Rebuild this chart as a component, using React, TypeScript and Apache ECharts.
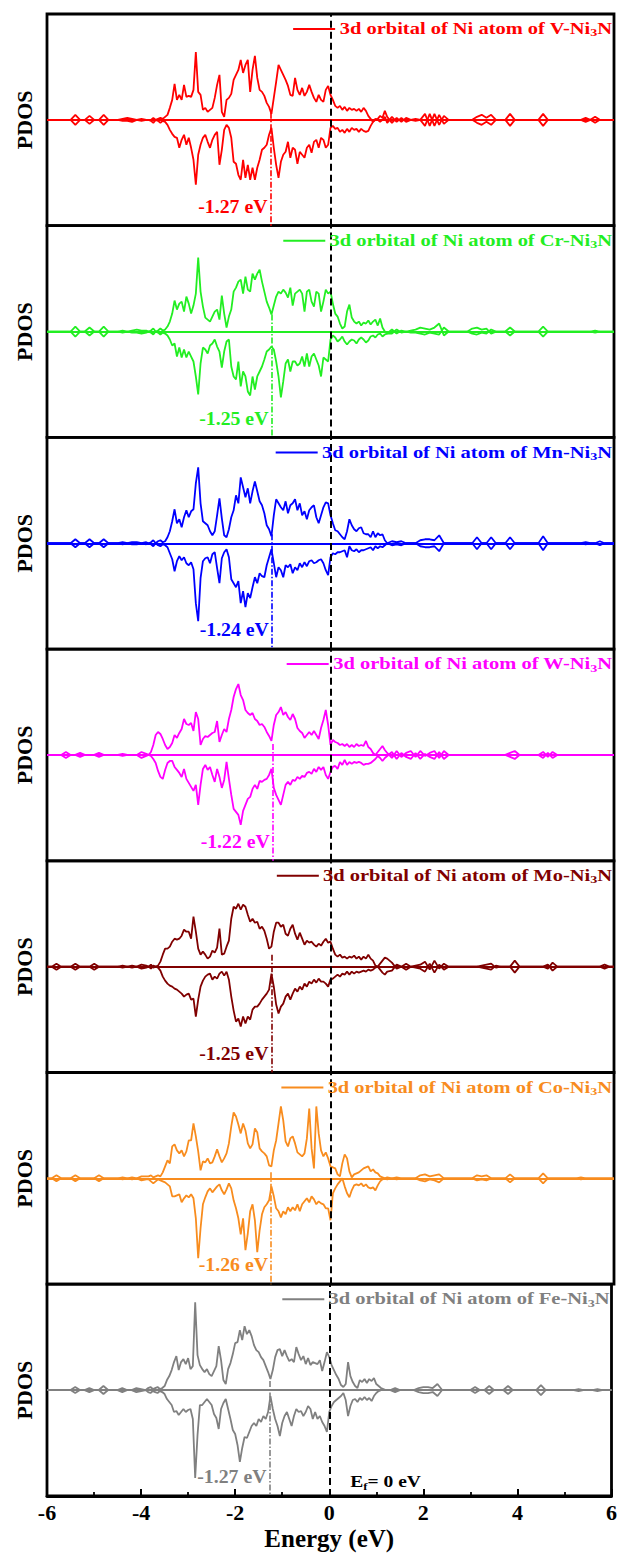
import React, { useEffect, useRef } from "react";
import * as echarts from "echarts";

// ---------------- data ----------------
const energyLeft = [-6, -5.9, -5.8, -5.7, -5.6, -5.5, -5.4, -5.3, -5.2, -5.1, -5, -4.9, -4.8, -4.7, -4.6, -4.5, -4.4, -4.3, -4.2, -4.1, -4, -3.9];
const energyCore = [
  -3.85, -3.8, -3.75, -3.7, -3.65, -3.6, -3.55, -3.5, -3.45, -3.4,
  -3.35, -3.3, -3.25, -3.2, -3.15, -3.1, -3.05, -3, -2.95, -2.9,
  -2.85, -2.8, -2.75, -2.7, -2.65, -2.6, -2.55, -2.5, -2.45, -2.4,
  -2.35, -2.3, -2.25, -2.2, -2.15, -2.1, -2.05, -2, -1.95, -1.9,
  -1.85, -1.8, -1.75, -1.7, -1.65, -1.6, -1.55, -1.5, -1.45, -1.4,
  -1.35, -1.3, -1.25, -1.2, -1.15, -1.1, -1.05, -1, -0.95, -0.9,
  -0.85, -0.8, -0.75, -0.7, -0.65, -0.6, -0.55, -0.5, -0.45, -0.4,
  -0.35, -0.3, -0.25, -0.2, -0.15, -0.1, -0.05, 0, 0.05, 0.1,
  0.15, 0.2, 0.25, 0.3, 0.35, 0.4, 0.45, 0.5, 0.55, 0.6,
  0.65, 0.7, 0.75, 0.8, 0.85, 0.9, 0.95, 1, 1.05, 1.1,
  1.15, 1.2,
];
const energyRight = [
  1.3, 1.4, 1.5, 1.6, 1.7, 1.8, 1.9, 2, 2.1, 2.2,
  2.3, 2.4, 2.5, 2.6, 2.7, 2.8, 2.9, 3, 3.1, 3.2,
  3.3, 3.4, 3.5, 3.6, 3.7, 3.8, 3.9, 4, 4.1, 4.2,
  4.3, 4.4, 4.5, 4.6, 4.7, 4.8, 4.9, 5, 5.1, 5.2,
  5.3, 5.4, 5.5, 5.6, 5.7, 5.8, 5.9, 6,
];
const energy = [...energyLeft, ...energyCore, ...energyRight];

// V-Ni3N
const vUp = [
  0, 0, 0, 0, 0, 0, 5, 0, 0, 4, 0, 0, 5, 0, 0, 0, 1, 2, 1, 0, 1, 0,
  0, 0, 2, 0, 1, 2, 1, 3, 5, 12,
  20, 36, 20, 25, 20, 35, 23, 24, 23, 30,
  68, 28, 25, 10, 12, 8, 10, 12, 22, 35,
  45, 8, 3, 20, 22, 26, 40, 45, 50, 60,
  47, 55, 60, 28, 50, 64, 42, 30, 28, 24,
  17, 13, 6, 22, 38, 55, 50, 45, 40, 34,
  25, 24, 42, 30, 25, 32, 24, 28, 35, 28,
  22, 18, 25, 20, 18, 30, 34, 25, 20, 14,
  12, 14, 10, 13, 9, 12, 10, 11, 9, 11,
  8, 12, 9, 4, 1, -2, 0, 1, 4, 2,
  9, 3,
  -3, 2, -2, 2, 0, 1, 0, 6, -6, 6,
  -5, 4, 0, 0, 0, 0, 0, 0, 3, 5,
  2, 5, 0, 0, 0, 6, 0, 0, 0, 0,
  0, 0, 6, 0, 0, 0, 0, 0, 0, 0,
  0, 2, 0, 3, 0, 0, 0, 0,
];
const vDn = [
  0, 0, 0, 0, 0, 0, -5, 0, 0, -4, 0, 0, -5, 0, 0, 0, -1, -1, -2, 0, -1, 0,
  0, -1, -3, 0, -1, -3, -1, -2, -5, -10,
  -14, -17, -18, -28, -20, -15, -25, -18, -28, -40,
  -65, -35, -25, -18, -15, -22, -28, -20, -15, -12,
  -45, -30, -10, -5, -8, -18, -42, -44, -55, -60,
  -40, -58, -45, -60, -48, -60, -48, -40, -30, -28,
  -25, -15, -8, -28, -45, -58, -42, -35, -32, -22,
  -38, -28, -30, -44, -32, -35, -38, -28, -25, -33,
  -22, -20, -28, -18, -20, -28, -25, -8, -6, -9,
  -8, -12, -10, -13, -9, -12, -8, -10, -9, -12,
  -9, -11, -12, -11, -6, -2, 1, 0, -2, 0,
  3, -3,
  3, -2, 2, -2, 0, -1, 0, -6, 6, -6,
  5, -4, 0, 0, 0, 0, 0, 0, -3, -5,
  -2, -5, 0, 0, 0, -6, 0, 0, 0, 0,
  0, 0, -6, 0, 0, 0, 0, 0, 0, 0,
  0, -2, 0, -3, 0, 0, 0, 0,
];

// Cr-Ni3N
const crUp = [
  0, 0, 0, 0, 0, 0, 5, 0, 0, 4, 0, 0, 5, 0, 0, 0, 1, 0, 1, 2, 1, 1,
  0, 1, 3, 0, 1, 3, 1, 2, 5, 10,
  18, 31, 22, 28, 30, 20, 35, 28, 18, 26,
  38, 74, 40, 25, 14, 12, 10, 15, 20, 22,
  12, 36, 18, 4, 15, 22, 40, 44, 50, 52,
  38, 55, 42, 40, 58, 52, 58, 62, 50, 40,
  30, 24, 17, 26, 35, 40, 38, 42, 39, 34,
  44, 26, 38, 40, 42, 38, 20, 40, 42, 30,
  25, 40, 38, 20, 30, 42, 38, 40, 28, 18,
  15, 8, 3, 5, 20, 27, 14, 10, 8, 10,
  6, 9, 8, 11, 7, 10, 12, 6, 13, 4,
  0, -2,
  2, -2, 1, 0, 1, 2, 4, 3, 2, 4,
  8, -4, 0, 0, 0, 0, 0, 3, 4, 2,
  3, -2, 0, 0, 0, 4, 0, 0, 0, 0,
  0, 0, 5, 0, 0, 0, 0, 0, 0, 0,
  0, 0, 0, 1, 0, 0, 0, 0,
];
const crDn = [
  0, 0, 0, 0, 0, 0, -5, 0, 0, -4, 0, 0, -5, 0, 0, 0, -1, 0, -1, -1, -2, -1,
  0, -1, -3, 0, -1, -3, -1, -2, -4, -8,
  -14, -12, -25, -16, -26, -18, -26, -20, -25, -30,
  -45, -63, -32, -16, -18, -22, -14, -12, -8, -15,
  -20, -36, -20, -10, -8, -35, -45, -48, -30, -55,
  -40, -45, -60, -64, -45, -58, -45, -40, -35, -28,
  -20, -18, -15, -18, -30, -45, -66, -50, -32, -28,
  -40, -30, -30, -34, -32, -25, -35, -22, -35, -25,
  -22, -28, -34, -45, -26, -28, -30, -8, -4, -6,
  -10, -8, -5, -10, -13, -10, -8, -9, -12, -8,
  -6, -8, -11, -9, -5, -4, -6, -3, -2, -5,
  -3, -2,
  -2, 2, -1, 0, -1, -1, -2, -3, -1, -2,
  -3, 4, 0, 0, 0, 0, 0, -2, -3, -1,
  -2, 2, 0, 0, 0, -4, 0, 0, 0, 0,
  0, 0, -5, 0, 0, 0, 0, 0, 0, 0,
  0, 0, 0, -1, 0, 0, 0, 0,
];

// Mn-Ni3N
const mnUp = [
  0, 0, 0, 0, 0, 0, 4, 0, 0, 4, 0, 0, 4, 0, 0, 0, 1, 0, 1, 1, 0, 1,
  0, 1, 3, 0, 2, 3, 1, 2, 6, 12,
  22, 34, 20, 24, 16, 26, 33, 26, 32, 34,
  60, 76, 40, 22, 20, 18, 12, 8, 12, 28,
  45, 25, 8, 6, 14, 26, 33, 48, 40, 66,
  56, 46, 55, 40, 52, 62, 52, 42, 38, 30,
  18, 14, 7, 28, 44, 40, 36, 33, 42, 30,
  38, 40, 44, 33, 40, 28, 32, 24, 33, 36,
  38, 26, 20, 28, 36, 41, 40, 28, 20, 13,
  12, 9, 6, 4, 12, 24, 18, 14, 12, 15,
  16, 10, 9, 9, 6, 12, 6, 10, 8, 9,
  3, 0,
  2, 1, 2, 0, 0, 0, 3, 4, 4, 3,
  8, 0, 0, 0, 0, 0, 0, 0, 6, 0,
  0, 6, 0, 0, 0, 6, 0, 0, 0, 0,
  0, 0, 7, 0, 0, 0, 0, 0, 0, 0,
  0, 1, 0, 0, 2, 0, 0, 0,
];
const mnDn = [
  0, 0, 0, 0, 0, 0, -4, 0, 0, -4, 0, 0, -4, 0, 0, 0, -1, 0, -1, -1, 0, -1,
  0, -1, -3, 0, -2, -3, -1, -2, -4, -10,
  -16, -28, -18, -13, -17, -14, -20, -22, -19, -26,
  -60, -78, -35, -18, -15, -14, -20, -11, -9, -25,
  -40, -15, -9, -6, -14, -36, -40, -44, -38, -60,
  -48, -64, -50, -55, -44, -34, -40, -30, -33, -34,
  -22, -14, -6, -20, -34, -24, -27, -34, -22, -24,
  -21, -30, -24, -27, -20, -24, -19, -23, -18, -17,
  -20, -19, -17, -16, -20, -27, -32, -14, -10, -11,
  -9, -9, -8, -7, -14, -3, -7, -8, -6, -9,
  -7, -7, -6, -5, -4, -7, -3, -5, -3, -4,
  -2, 0,
  -2, -1, -2, 0, 0, 0, -3, -4, -4, -3,
  -8, 0, 0, 0, 0, 0, 0, 0, -6, 0,
  0, -6, 0, 0, 0, -6, 0, 0, 0, 0,
  0, 0, -7, 0, 0, 0, 0, 0, 0, 0,
  0, -1, 0, 0, -2, 0, 0, 0,
];

// W-Ni3N
const wUp = [
  0, 0, 0, 0, 3, 0, 0, 2, 0, 0, 0, 2, 0, 0, 0, 0, 1, 0, 0, 0, 3, 1,
  0, 3, 10, 20, 23, 21, 16, 10, 6, 8,
  12, 20, 17, 22, 26, 36, 31, 30, 32, 24,
  43, 36, 10, 16, 19, 18, 20, 22, 23, 34,
  13, 20, 26, 23, 36, 45, 58, 66, 71, 60,
  55, 45, 42, 40, 42, 36, 34, 30, 31, 28,
  23, 19, 14, 30, 40, 43, 48, 40, 43, 38,
  35, 41, 36, 27, 24, 22, 17, 20, 23, 20,
  24, 20, 16, 27, 35, 45, 30, 10, 15, 13,
  12, 10, 11, 9, 11, 8, 10, 8, 11, 9,
  10, 9, 14, 8, 6, 2, 0, 3, 6, 9,
  5, 2,
  -3, 4, -2, 2, 4, -2, 4, -1, 2, 4,
  -3, 4, 0, 0, 0, 0, 0, 0, 0, 0,
  0, 0, 0, 0, 0, 2, 4, 0, 0, 0,
  0, 0, 3, -2, 3, 0, 0, 0, 0, 0,
  0, 0, 0, 0, 0, 0, 0, 0,
];
const wDn = [
  0, 0, 0, 0, -3, 0, 0, -2, 0, 0, 0, -2, 0, 0, 0, 0, -1, 0, 0, 0, -3, -1,
  0, -1, -4, -8, -16, -22, -24, -15, -8, -6,
  -6, -12, -15, -18, -22, -14, -24, -28, -32, -36,
  -30, -50, -30, -14, -10, -15, -12, -20, -27, -14,
  -22, -33, -25, -7, -24, -40, -54, -57, -60, -70,
  -56, -50, -44, -42, -34, -30, -34, -26, -27, -25,
  -24, -20, -14, -33, -40, -45, -50, -40, -30, -27,
  -30, -25, -26, -22, -24, -21, -22, -18, -17, -19,
  -14, -17, -12, -15, -12, -20, -24, -17, -12, -11,
  -14, -7, -10, -5, -10, -7, -9, -7, -8, -7,
  -8, -10, -9, -9, -8, -6, -4, -1, -3, -6,
  -3, -1,
  3, -4, 2, -2, -4, 2, -4, 1, -2, -4,
  3, -4, 0, 0, 0, 0, 0, 0, 0, 0,
  0, 0, 0, 0, 0, -2, -4, 0, 0, 0,
  0, 0, -3, 2, -3, 0, 0, 0, 0, 0,
  0, 0, 0, 0, 0, 0, 0, 0,
];

// Mo-Ni3N
const moUp = [
  0, 0, 3, 0, 0, 0, 3, 0, 0, 0, 3, 0, 0, 0, 0, 0, 1, 0, 1, 0, 2, 1,
  0, 2, -1, 0, 1, 5, 12, 18, 18, 20,
  25, 28, 27, 28, 31, 37, 35, 35, 28, 50,
  35, 18, 12, 15, 12, 8, 10, 16, 14, 19,
  38, 12, 13, 20, 26, 48, 60, 58, 63, 57,
  62, 60, 52, 45, 48, 44, 45, 38, 40, 36,
  28, 18, 20, 35, 44, 44, 40, 42, 33, 31,
  38, 42, 33, 27, 34, 28, 22, 26, 24, 25,
  22, 20, 23, 21, 25, 28, 24, 25, 18, 12,
  10, 12, 9, 10, 8, 10, 9, 11, 8, 10,
  7, 10, 8, 12, 8, 6, 1, 0, 3, 6,
  9, 8,
  4, -2, 0, 3, 0, 1, 2, 5, -3, 6,
  -2, 3, 0, 0, 0, 0, 0, 0, 0, 1,
  2, 3, -1, 0, 0, 0, 6, 0, 0, 0,
  0, 0, 0, -2, 4, 0, 0, 0, 0, 0,
  0, 0, 0, 0, 0, 2, 0, 0,
];
const moDn = [
  0, 0, -3, 0, 0, 0, -3, 0, 0, 0, -3, 0, 0, 0, 0, 0, -1, 0, -1, 0, -2, -1,
  0, -2, 1, 0, -1, -4, -10, -14, -17, -19,
  -20, -22, -23, -25, -27, -30, -28, -27, -33, -32,
  -50, -33, -20, -14, -10, -8, -7, -13, -10, -12,
  -7, -5, -9, -5, -13, -30, -44, -55, -52, -60,
  -50, -57, -50, -53, -43, -40, -40, -37, -33, -30,
  -27, -23, -7, -20, -38, -47, -40, -37, -30, -27,
  -33, -27, -22, -25, -20, -23, -17, -20, -15, -17,
  -13, -16, -12, -15, -15, -17, -20, -13, -12, -10,
  -8, -10, -7, -8, -5, -8, -5, -7, -5, -6,
  -5, -4, -5, -3, -4, -3, -1, 0, -3, -6,
  -8, -5,
  -4, 2, 0, -3, 0, -1, -2, -5, 3, -6,
  2, -3, 0, 0, 0, 0, 0, 0, 0, -1,
  -2, -3, 1, 0, 0, 0, -6, 0, 0, 0,
  0, 0, 0, 2, -4, 0, 0, 0, 0, 0,
  0, 0, 0, 0, 0, -2, 0, 0,
];

// Co-Ni3N
const coUp = [
  0, 0, 3, 0, 0, 0, 3, 0, 0, 0, 0, 3, 0, 0, 0, 0, 1, 0, 1, 0, 2, 2,
  2, 3, 1, 2, 3, 2, 6, 12, 18, 15,
  32, 34, 28, 25, 28, 22, 27, 38, 38, 55,
  42, 27, 8, 17, 16, 20, 15, 16, 22, 29,
  22, 16, 20, 25, 35, 52, 66, 62, 54, 45,
  55, 48, 35, 30, 34, 50, 46, 30, 27, 25,
  22, 13, 12, 28, 38, 55, 72, 58, 37, 32,
  40, 42, 35, 26, 24, 22, 25, 40, 70, 30,
  10, 72, 45, 28, 22, 26, 20, 12, 11, 10,
  4, 2, 15, 24, 20, 7, 1, 4, 5, 6,
  8, 10, 11, 12, 7, 9, 6, 5, 2, 1,
  0, 1,
  0, 1, 0, 0, 0, 0, 3, 4, 2, 3,
  4, 0, 0, 0, 0, 0, 0, 0, 3, 2,
  3, 0, 0, 0, 0, 4, 0, 0, 0, 0,
  0, 0, 5, 0, 0, 0, 0, 0, 0, 0,
  1, 0, 0, 0, 0, 0, 0, 0,
];
const coDn = [
  0, 0, -3, 0, 0, 0, -3, 0, 0, 0, 0, -3, 0, 0, 0, 0, -1, 0, -1, 0, -2, -1,
  -1, -3, -5, -3, -1, -2, -3, -4, -6, -8,
  -18, -18, -17, -16, -24, -20, -17, -19, -16, -20,
  -40, -80, -50, -26, -19, -13, -10, -14, -11, -8,
  -6, -12, -16, -11, -5, -10, -22, -30, -40, -56,
  -40, -72, -55, -33, -26, -42, -74, -52, -36, -29,
  -26, -22, -8, -18, -30, -33, -39, -33, -36, -29,
  -33, -29, -32, -26, -33, -26, -23, -20, -24, -18,
  -21, -26, -23, -25, -26, -30, -30, -42, -15, -10,
  -6, -3, 0, -8, -15, -19, -12, -7, -6, -7,
  -5, -8, -6, -9, -10, -9, -12, -7, -3, -1,
  0, -1,
  0, -1, 0, 0, 0, 0, -2, -3, -1, -2,
  -4, 0, 0, 0, 0, 0, 0, 0, -2, -1,
  -2, 0, 0, 0, 0, -4, 0, 0, 0, 0,
  0, 0, -5, 0, 0, 0, 0, 0, 0, 0,
  -1, 0, 0, 0, 0, 0, 0, 0,
];

// Fe-Ni3N
const feUp = [
  0, 0, 0, 0, 0, 0, 3, 0, 0, 2, 0, 0, 4, 0, 0, 0, 2, 0, 0, 2, 1, 0,
  2, 3, 1, 2, 3, 1, 2, 4, 10, 14,
  20, 28, 34, 20, 28, 31, 26, 32, 21, 24,
  88, 35, 25, 21, 18, 21, 16, 14, 19, 24,
  44, 30, 10, 6, 21, 27, 36, 47, 48, 60,
  50, 64, 56, 60, 54, 45, 40, 38, 33, 30,
  24, 18, 11, 20, 33, 40, 41, 34, 40, 34,
  29, 31, 28, 43, 36, 30, 34, 26, 32, 25,
  28, 27, 26, 30, 19, 28, 38, 33, 25, 20,
  15, 11, 5, 3, 6, 28, 14, 8, 4, 2,
  10, 8, 11, 7, 11, 9, 12, 6, 4, 2,
  1, 0,
  0, 2, 0, 0, 0, 0, 2, 3, 3, 2,
  6, 0, 0, 0, 0, 0, 0, 0, 3, 0,
  0, 4, 0, 0, 0, 4, 0, 0, 0, 0,
  0, 0, 5, 0, 0, 0, 0, 0, 0, 0,
  1, 0, 0, 0, 1, 0, 0, 0,
];
const feDn = [
  0, 0, 0, 0, 0, 0, -3, 0, 0, -2, 0, 0, -4, 0, 0, 0, -2, 0, 0, -2, -1, 0,
  -2, -3, -1, -2, -3, -1, -2, -4, -9, -12,
  -15, -22, -21, -25, -22, -19, -22, -20, -19, -29,
  -88, -45, -15, -15, -12, -9, -12, -15, -24, -28,
  -39, -19, -13, -9, -19, -29, -40, -44, -55, -72,
  -58, -47, -48, -42, -36, -33, -36, -29, -32, -26,
  -29, -22, -6, -19, -29, -36, -46, -33, -26, -22,
  -29, -36, -26, -19, -22, -21, -26, -22, -16, -19,
  -29, -22, -29, -26, -32, -36, -42, -22, -16, -12,
  -10, -8, -6, -3, -10, -26, -16, -10, -9, -12,
  -8, -10, -7, -10, -8, -11, -6, -3, -1, 0,
  0, 0,
  0, -2, 0, 0, 0, 0, -2, -3, -3, -2,
  -6, 0, 0, 0, 0, 0, 0, 0, -3, 0,
  0, -4, 0, 0, 0, -4, 0, 0, 0, 0,
  0, 0, -5, 0, 0, 0, 0, 0, 0, 0,
  -1, 0, 0, 0, -1, 0, 0, 0,
];

const dopants = ["V", "Cr", "Mn", "W", "Mo", "Co", "Fe"];
const colors = ["#FF0000", "#22EE22", "#0000FF", "#FF00FF", "#800000", "#F88C1E", "#808080"];
const spinUp = [vUp, crUp, mnUp, wUp, moUp, coUp, feUp];
const spinDown = [vDn, crDn, mnDn, wDn, moDn, coDn, feDn];
const dbandCenters = [-1.27, -1.25, -1.24, -1.22, -1.25, -1.26, -1.27];
const dbandLineTop = [7, 17, 9, 11, 12, 6, 9];
const xTicks = [-6, -4, -2, 0, 2, 4, 6];
const yLimit = 106;

// ---------------- layout ----------------
const FONT = "'Liberation Serif', 'Times New Roman', serif";
const GRID_LEFT = 47;
const GRID_WIDTH = 567;
const GRID_TOP = 14;
const PANEL_H = 211.7;

export default function App() {
  const ref = useRef<HTMLDivElement>(null);

  useEffect(() => {
    if (!ref.current) return;
    const chart = echarts.init(ref.current, null, { renderer: "svg" });
    const n = dopants.length;
    const last = n - 1;

    const grid = dopants.map((_, i) => ({
      left: GRID_LEFT,
      width: GRID_WIDTH,
      top: GRID_TOP + i * PANEL_H,
      height: PANEL_H,
      show: true,
      borderColor: "#000",
      borderWidth: 2.8,
      backgroundColor: "transparent",
    }));

    const xAxis = dopants.map((_, i) => ({
      type: "value",
      gridIndex: i,
      min: xTicks[0],
      max: xTicks[xTicks.length - 1],
      interval: 2,
      splitLine: { show: false },
      axisLine: { show: i === last, onZero: false, lineStyle: { color: "#000", width: 2.8 } },
      axisTick: { show: i === last, inside: true, length: 7, lineStyle: { color: "#000", width: 2 } },
      minorTick: { show: i === last, splitNumber: 2, length: 4, lineStyle: { color: "#000", width: 1.8 } },
      axisLabel: {
        show: i === last,
        color: "#000",
        fontSize: 22,
        fontWeight: "bold",
        fontFamily: FONT,
        margin: 6,
      },
      name: i === last ? "Energy (eV)" : "",
      nameLocation: "middle",
      nameGap: 30,
      nameTextStyle: { color: "#000", fontSize: 25, fontWeight: "bold", fontFamily: FONT },
    }));

    const yAxis = dopants.map((_, i) => ({
      type: "value",
      gridIndex: i,
      min: -yLimit,
      max: yLimit,
      axisLine: { show: false },
      axisTick: { show: false },
      axisLabel: { show: false },
      splitLine: { show: false },
      name: "PDOS",
      nameLocation: "middle",
      nameRotate: 90,
      nameGap: 12,
      nameTextStyle: { color: "#000", fontSize: 22, fontWeight: "bold", fontFamily: FONT },
    }));

    const series: any[] = [];
    dopants.forEach((d, i) => {
      const color = colors[i];
      series.push({
        type: "line",
        name: `${d} spin up`,
        xAxisIndex: i,
        yAxisIndex: i,
        data: energy.map((e, j) => [e, spinUp[i][j]]),
        symbol: "none",
        showSymbol: false,
        silent: true,
        lineStyle: { color, width: 1.8 },
        itemStyle: { color },
        z: 3,
        markLine: {
          silent: true,
          symbol: ["none", "none"],
          label: { show: false },
          animation: false,
          data: [
            { yAxis: 0, lineStyle: { color, width: 1.8, type: "solid" } },
            { xAxis: 0, lineStyle: { color: "#000", width: 2, type: [7, 4] } },
            [
              {
                coord: [dbandCenters[i], dbandLineTop[i]],
                lineStyle: { color, width: 1.6, type: [6, 2, 1.5, 2] },
              },
              { coord: [dbandCenters[i], -yLimit] },
            ],
          ],
        },
      });
      series.push({
        type: "line",
        name: `${d} spin down`,
        xAxisIndex: i,
        yAxisIndex: i,
        data: energy.map((e, j) => [e, spinDown[i][j]]),
        symbol: "none",
        showSymbol: false,
        silent: true,
        lineStyle: { color, width: 1.8 },
        itemStyle: { color },
        z: 3,
      });
    });

    chart.setOption({
      animation: false,
      backgroundColor: "#fff",
      grid,
      xAxis,
      yAxis,
      series,
    });

    // ---- texts placed from the axes' own pixel mapping ----
    const LEG_SCALE = 1.28;
    const graphic: any[] = [];
    dopants.forEach((d, i) => {
      const color = colors[i];
      const [xRight, yTop] = chart.convertToPixel({ gridIndex: i }, [xTicks[xTicks.length - 1], yLimit]) as number[];
      const [xCenter, yBottom] = chart.convertToPixel({ gridIndex: i }, [dbandCenters[i], -yLimit]) as number[];
      const legStyle: any = {
        text: `3d orbital of Ni atom of ${d}-Ni{s|3}N`,
        fill: color,
        fontSize: 16,
        fontWeight: "bold",
        fontFamily: FONT,
        lineHeight: 19,
        align: "right",
        verticalAlign: "middle",
        rich: {
          s: { fontSize: 11, fontWeight: "bold", fontFamily: FONT, fill: color, verticalAlign: "bottom", lineHeight: 11 },
        },
      };
      let w = 210;
      try {
        const t = new (echarts.graphic as any).Text({ style: { ...legStyle, align: "left" } });
        const r = t.getBoundingRect();
        if (r && r.width > 0) w = r.width;
      } catch (e) {
        /* keep fallback */
      }
      const textRight = xRight - 2;
      const ly = yTop + 15;
      const textLeft = textRight - w * LEG_SCALE;
      graphic.push({
        type: "line",
        silent: true,
        shape: { x1: textLeft - 46, y1: ly, x2: textLeft - 4, y2: ly },
        style: { stroke: color, lineWidth: 2 },
        z: 10,
      });
      graphic.push({
        type: "text",
        silent: true,
        x: textRight,
        y: ly,
        scaleX: LEG_SCALE,
        style: legStyle,
        z: 10,
      });
      graphic.push({
        type: "text",
        silent: true,
        x: xCenter - 3,
        y: yBottom - 19,
        scaleX: 1.1,
        style: {
          text: `${dbandCenters[i].toFixed(2)} eV`,
          fill: color,
          fontSize: 18,
          fontWeight: "bold",
          fontFamily: FONT,
          align: "right",
          verticalAlign: "middle",
        },
        z: 10,
      });
      if (i === last) {
        const [x0] = chart.convertToPixel({ gridIndex: i }, [0, 0]) as number[];
        graphic.push({
          type: "text",
          silent: true,
          x: x0 + 21,
          y: yBottom - 14,
          scaleX: 1.15,
          style: {
            text: "E{s|f}= 0 eV",
            fill: "#000",
            fontSize: 17,
            fontWeight: "bold",
            fontFamily: FONT,
            lineHeight: 20,
            align: "left",
            verticalAlign: "middle",
            rich: {
              s: { fontSize: 11, fontWeight: "bold", fontFamily: FONT, fill: "#000", verticalAlign: "bottom", lineHeight: 11 },
            },
          },
          z: 10,
        });
      }
    });
    chart.setOption({ graphic });

    return () => chart.dispose();
  }, []);

  return (
    <div
      ref={ref}
      style={{ position: "absolute", left: 0, top: 0, width: 620, height: 1561, background: "#fff" }}
    />
  );
}
